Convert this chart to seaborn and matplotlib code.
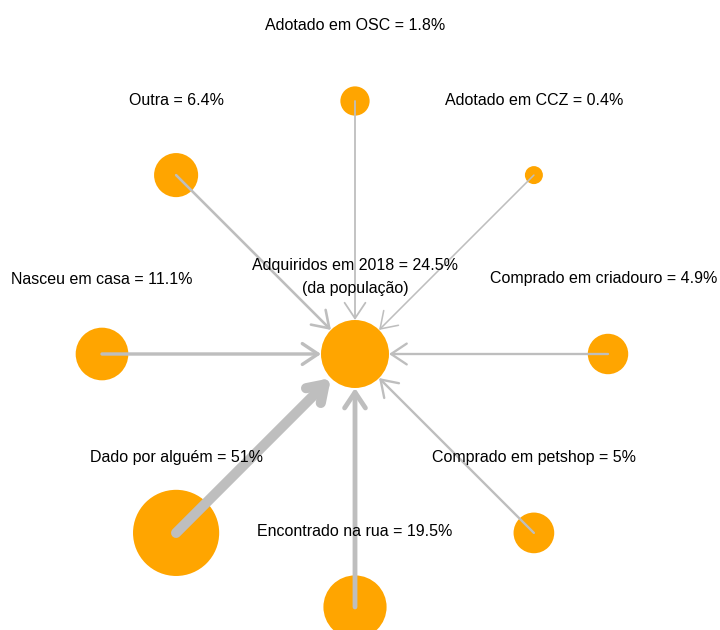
import numpy as np
import pandas as pd
import seaborn as sns
import matplotlib
matplotlib.use("Agg")
import matplotlib.pyplot as plt

# origem dos animais (% dos adquiridos em 2018)
origins = ["Adotado em OSC", "Adotado em CCZ", "Comprado em criadouro",
           "Comprado em petshop", "Encontrado na rua", "Dado por alguém",
           "Nasceu em casa", "Outra"]
shares = [1.8, 0.4, 4.9, 5, 19.5, 51, 11.1, 6.4]

center_name = "Adquiridos em 2018"
center_share = 24.5
center_note = "(da população)"

sns.set_style("white")
plt.rcParams["font.family"] = ["Liberation Sans", "DejaVu Sans"]

DPI = 100
PX = 253.0  # pixels per data unit (radius of the ring)


def node_radius_px(v):
    return 12.1 * v ** 0.323


def node_area(v):
    d_pt = 2 * node_radius_px(v) * 72 / DPI
    return d_pt ** 2


angles = np.deg2rad(90 - 45 * np.arange(len(origins)))
nodes = pd.DataFrame({
    "name": origins + [center_name],
    "share": shares + [center_share],
    "x": list(np.cos(angles)) + [0.0],
    "y": list(np.sin(angles)) + [0.0],
})

fig = plt.figure(figsize=(7.2, 6.3), dpi=DPI)
ax = fig.add_axes([0, 0, 1, 1])
ax.set_xlim(-355 / PX, 365 / PX)
ax.set_ylim(-276 / PX, 354 / PX)
ax.set_aspect("equal")
ax.axis("off")

sns.scatterplot(data=nodes, x="x", y="y", size="share",
                sizes={v: node_area(v) for v in nodes["share"]},
                color="#FFA500", linewidth=0, legend=False, ax=ax, zorder=1)

# arestas: do centro de cada origem até a borda do nó central
shrink_pt = node_radius_px(center_share) * 72 / DPI
for _, row in nodes.iloc[:-1].iterrows():
    lw = (1.5 + 0.17 * row["share"]) * 72 / DPI
    ax.annotate("", xy=(0, 0), xytext=(row["x"], row["y"]),
                arrowprops=dict(arrowstyle="->,head_length=0.75,head_width=0.5",
                                color="#BEBEBE", lw=lw, shrinkA=0,
                                shrinkB=shrink_pt, mutation_scale=15),
                zorder=2)

off = 75 / PX
labels = []
for _, row in nodes.iloc[:-1].iterrows():
    t = ax.text(row["x"], row["y"] + off, f"{row['name']} = {row['share']:g}%",
                ha="center", va="center", fontsize=11.5, color="black", zorder=3)
    labels.append(t)
ax.text(0, 77 / PX, f"{center_name} = {center_share:g}%\n{center_note}",
        ha="center", va="center", fontsize=11.5, linespacing=1.6,
        color="black", zorder=3)

# empurra para dentro rótulos que passariam da borda da figura
fig.canvas.draw()
renderer = fig.canvas.get_renderer()
W = fig.get_figwidth() * DPI
for t in labels:
    bb = t.get_window_extent(renderer)
    over = bb.x1 - (W - 3)
    if over > 0:
        x, y = t.get_position()
        t.set_position((x - over / PX, y))

fig.savefig("out.png", dpi=DPI)
